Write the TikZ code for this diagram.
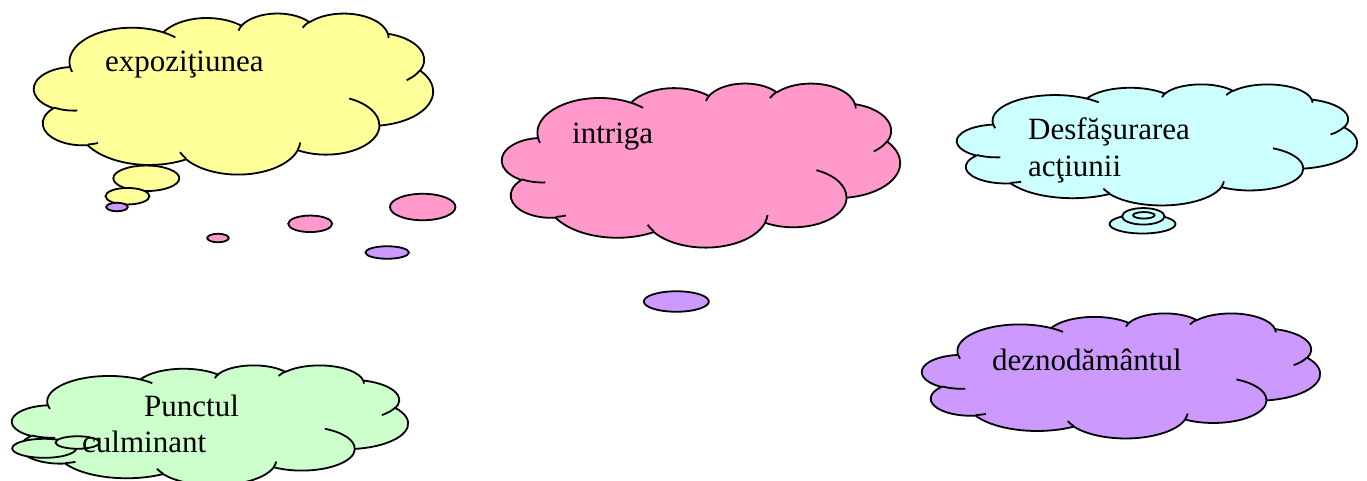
\documentclass[tikz,border=0pt]{standalone}
\usepackage{fontspec}
\setmainfont{Liberation Serif}
\usetikzlibrary{shapes.geometric}

\definecolor{expofill}{RGB}{255,255,153}
\definecolor{intrigafill}{RGB}{255,153,204}
\definecolor{desffill}{RGB}{204,255,255}
\definecolor{deznfill}{RGB}{204,153,255}
\definecolor{punctfill}{RGB}{204,255,204}

% one puff of the cloud: x radius, y radius, start and sweep angle
\newcommand\puffarc[4]{%
  \pgfextra{%
    \pgfmathparse{atan2(#1*sin(#3),#2*cos(#3))}\xdef\puffA{\pgfmathresult}%
    \pgfmathparse{atan2(#1*sin(#3+#4),#2*cos(#3+#4))}\xdef\puffB{\pgfmathresult}%
    \pgfmathparse{mod(\puffB-\puffA+720,360)}\xdef\puffD{\pgfmathresult}%
  }%
  arc[start angle=\puffA, delta angle=\puffD, x radius=#1, y radius=#2]%
}

% cloud in a box: left, top, width, height, fill
\newcommand\cloudbox[5]{%
  \pgfmathsetmacro\cloudw{#3/100}%
  \pgfmathsetmacro\cloudh{#4/100}%
  \begin{scope}[shift={(#1,#2)}, x=\cloudw pt, y=-\cloudh pt]
    \filldraw[cloudline, fill=#5] (9.028,33.264)
      \puffarc{15.632}{21.273}{-190.4875}{123.7805}
      \puffarc{12.345}{16.822}{-144.1024}{89.9452}
      \puffarc{10.104}{13.762}{-145.8079}{99.7230}
      \puffarc{11.243}{15.266}{-130.9861}{117.2417}
      \puffarc{12.345}{16.836}{-78.7089}{109.0269}
      \puffarc{15.683}{21.343}{-46.2673}{130.2690}
      \puffarc{13.391}{18.211}{0.6250}{114.0333}
      \puffarc{15.630}{21.331}{22.4516}{115.1726}
      \puffarc{17.870}{24.405}{66.2426}{75.7110}
      \puffarc{10.093}{13.699}{-274.9421}{146.7356}
      \puffarc{10.058}{13.762}{-246.8285}{152.5189}
      -- cycle;
    \draw[cloudline]
      (10.863,60.595) \puffarc{10.058}{13.762}{86.7420}{26.4295}
      (16.037,80.785) \puffarc{10.093}{13.699}{73.6105}{11.4475}
      (38.144,90.486) \puffarc{15.630}{21.331}{137.6242}{14.0811}
      (66.729,80.442) \puffarc{15.630}{21.331}{6.4533}{15.9984}
      (79.002,53.134) \puffarc{13.391}{18.211}{-70.2924}{70.9174}
      (96.755,35.542) \puffarc{12.345}{16.836}{30.3180}{27.7515}
      (88.713,12.560) \puffarc{11.243}{15.266}{-13.7443}{14.8589}
      (67.310,9.148) \puffarc{11.243}{15.266}{-149.1815}{18.1954}
      (51.252,10.926) \puffarc{10.104}{13.762}{-163.4943}{17.6864}
      (32.407,12.019) \puffarc{15.632}{21.273}{-66.7070}{12.3194}
      (9.553,36.549) \puffarc{15.632}{21.273}{157.6544}{11.8582};
  \end{scope}%
}

\begin{document}
\begin{tikzpicture}[x=1pt, y=-1pt,
    cloudline/.style={line width=1.8pt, line join=round},
    bubble/.style={ellipse, draw, line width=1.8pt, inner sep=0pt},
    cloudtext/.style={anchor=base west, inner sep=0pt, font=\fontsize{31}{36}\selectfont}]
  \useasboundingbox (0,0) rectangle (1367,480);

  % expozitiunea
  \cloudbox{34}{13}{399}{161}{expofill}
  \node[bubble, fill=expofill, minimum width=66pt, minimum height=25.5pt] (expobig) at (146.3,178.3) {};
  \node[bubble, fill=expofill, minimum width=44pt, minimum height=16.5pt] (exposmall) at (127.5,196.2) {};

  % intriga
  \cloudbox{502}{83}{398}{164}{intrigafill}
  \node[bubble, fill=intrigafill, minimum width=65.5pt, minimum height=26.5pt] (intrigabig) at (422.7,207) {};
  \node[bubble, fill=intrigafill, minimum width=44pt, minimum height=16.5pt] (intrigamid) at (310.2,223.8) {};
  \node[bubble, fill=intrigafill, minimum width=21.5pt, minimum height=8.5pt] (intrigasmall) at (218,238) {};

  % desfasurarea actiunii
  \cloudbox{957}{84}{400}{121}{desffill}
  \node[bubble, fill=desffill, minimum width=66pt, minimum height=19pt] (desfbig) at (1142.5,224) {};
  \node[bubble, fill=desffill, minimum width=42.5pt, minimum height=16.5pt] (desfmid) at (1143.3,216.3) {};
  \node[bubble, fill=desffill, minimum width=21.5pt, minimum height=6.5pt] (desfsmall) at (1143.8,215.3) {};

  % deznodamantul
  \cloudbox{922}{313}{398}{125}{deznfill}
  \node[bubble, fill=deznfill, minimum width=65pt, minimum height=20.5pt] (deznbig) at (676.3,301.5) {};
  \node[bubble, fill=deznfill, minimum width=43.5pt, minimum height=12.5pt] (deznmid) at (387.2,252.5) {};
  \node[bubble, fill=deznfill, minimum width=21.5pt, minimum height=8.5pt] (deznsmall) at (117,207) {};

  % punctul culminant
  \cloudbox{12}{365}{396}{120}{punctfill}
  \node[bubble, fill=punctfill, minimum width=64pt, minimum height=19pt] (punctbig) at (44.2,448.3) {};
  \node[bubble, fill=punctfill, minimum width=44pt, minimum height=12.5pt] (punctmid) at (77.5,442.5) {};

  % texts
  \node[cloudtext] (expo) at (105,71) {expoziţiunea};
  \node[cloudtext] (intriga) at (572,143) {intriga};
  \node[cloudtext] (desf) at (1028,139) {Desfăşurarea};
  \node[cloudtext] (actiuni) at (1028,176) {acţiunii};
  \node[cloudtext] (dezn) at (992,370) {deznodământul};
  \node[cloudtext] (punct) at (144,416) {Punctul};
  \node[cloudtext] (culm) at (82,452) {culminant};
\end{tikzpicture}
\end{document}
